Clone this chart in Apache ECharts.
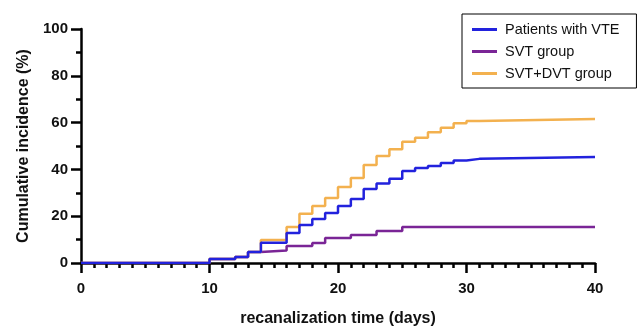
<!DOCTYPE html>
<html>
<head>
<meta charset="utf-8">
<script src="https://cdn.jsdelivr.net/npm/echarts@6/dist/echarts.min.js"></script>
<style>
    html, body { margin: 0; padding: 0; background: #fff; }
    #chart { width: 639px; height: 327px; }
</style>
</head>
<body>
<div id="chart"></div>
<script>
    // 数据 (从图上读出的阶梯点: 天数, 累计发生率%)
    var seriesNames = ['Patients with VTE', 'SVT group', 'SVT+DVT group'];
    var vteDays = [0, 10, 12, 13, 14, 16, 17, 18, 19, 20, 21, 22, 23, 24, 25, 26, 27, 28, 29, 30, 31, 40];
    var vteValues = [0, 1.7, 2.6, 4.7, 8.7, 12.8, 16.2, 18.8, 21.4, 24.4, 27.3, 31.6, 34, 36, 39.3, 40.6, 41.5, 42.7, 43.8, 44.5, 45.3, 45.3];
    var svtDays = [0, 10, 12, 13, 14, 16, 18, 19, 21, 23, 25, 40];
    var svtValues = [0, 1.7, 2.6, 4.7, 5.3, 7.3, 8.5, 10.7, 12, 13.7, 15.4, 15.4];
    var dvtDays = [0, 10, 12, 13, 14, 16, 17, 18, 19, 20, 21, 22, 23, 24, 25, 26, 27, 28, 29, 30, 31, 40];
    var dvtValues = [0, 1.7, 2.6, 4.7, 9.8, 15.4, 21, 24.4, 27.8, 32.5, 36.3, 41.9, 45.7, 48.6, 51.8, 53.5, 55.9, 57.8, 59.7, 60.7, 61.5, 61.5];
    var xTicks = [0, 10, 20, 30, 40];
    var yTicks = [0, 20, 40, 60, 80, 100];

    var colors = ['#2222dd', '#7a2596', '#f3b14f'];

    function pairs(days, values) {
        var out = [];
        for (var i = 0; i < days.length; i++) {
            out.push([days[i], values[i]]);
        }
        return out;
    }

    var labelFont = { color: '#111', fontFamily: 'Liberation Sans, Arial', fontWeight: 'bold', fontSize: 15 };

    // 坐标轴公用样式
    function axisBase() {
        return {
            type: 'value',
            axisLine: { show: true, lineStyle: { color: '#000', width: 2.5 } },
            axisTick: { show: true, inside: false, length: 10, lineStyle: { color: '#000', width: 2.5 } },
            minorTick: { show: true, length: 5, lineStyle: { color: '#000', width: 2.5 } },
            splitLine: { show: false },
            minorSplitLine: { show: false },
            nameLocation: 'middle',
            nameTextStyle: { color: '#111', fontFamily: 'Liberation Sans, Arial', fontWeight: 'bold', fontSize: 16 }
        };
    }

    var xAxis = axisBase();
    xAxis.min = xTicks[0];
    xAxis.max = xTicks[xTicks.length - 1];
    xAxis.interval = xTicks[1] - xTicks[0];
    xAxis.minorTick.splitNumber = 10;
    xAxis.axisLabel = Object.assign({ margin: 18 }, labelFont);
    xAxis.name = 'recanalization time (days)';
    xAxis.nameGap = 48;

    var yAxis = axisBase();
    yAxis.min = yTicks[0];
    yAxis.max = yTicks[yTicks.length - 1];
    yAxis.interval = yTicks[1] - yTicks[0];
    yAxis.minorTick.splitNumber = 2;
    yAxis.axisLabel = Object.assign({ margin: 13 }, labelFont);
    yAxis.name = 'Cumulative incidence (%)';
    yAxis.nameGap = 43;

    var lists = [pairs(vteDays, vteValues), pairs(svtDays, svtValues), pairs(dvtDays, dvtValues)];
    var series = [];
    // 先画紫色和橙色, 蓝色在最上层
    var order = [1, 2, 0];
    for (var k = 0; k < order.length; k++) {
        var idx = order[k];
        series.push({
            name: seriesNames[idx],
            type: 'line',
            step: 'end',
            showSymbol: false,
            symbol: 'none',
            z: 3 + k,
            lineStyle: { color: colors[idx], width: 2.5 },
            itemStyle: { color: colors[idx] },
            data: lists[idx]
        });
    }

    var option = {
        animation: false,
        backgroundColor: '#fff',
        grid: { left: 81, right: 44, top: 29, bottom: 64, outerBoundsMode: 'none', containLabel: false },
        legend: {
            data: seriesNames,
            orient: 'vertical',
            left: 462,
            top: 14,
            padding: [8, 17, 7, 10],
            itemGap: 7,
            itemWidth: 25,
            itemHeight: 3,
            icon: 'path://M0,0H25V3H0Z',
            borderColor: '#000',
            borderWidth: 1,
            textStyle: { color: '#111', fontFamily: 'Liberation Sans, Arial', fontSize: 14.5, padding: [0, 0, 0, 3] }
        },
        xAxis: xAxis,
        yAxis: yAxis,
        series: series
    };

    var chart = echarts.init(document.getElementById('chart'), null, { renderer: 'canvas' });
    chart.setOption(option);
</script>
</body>
</html>
